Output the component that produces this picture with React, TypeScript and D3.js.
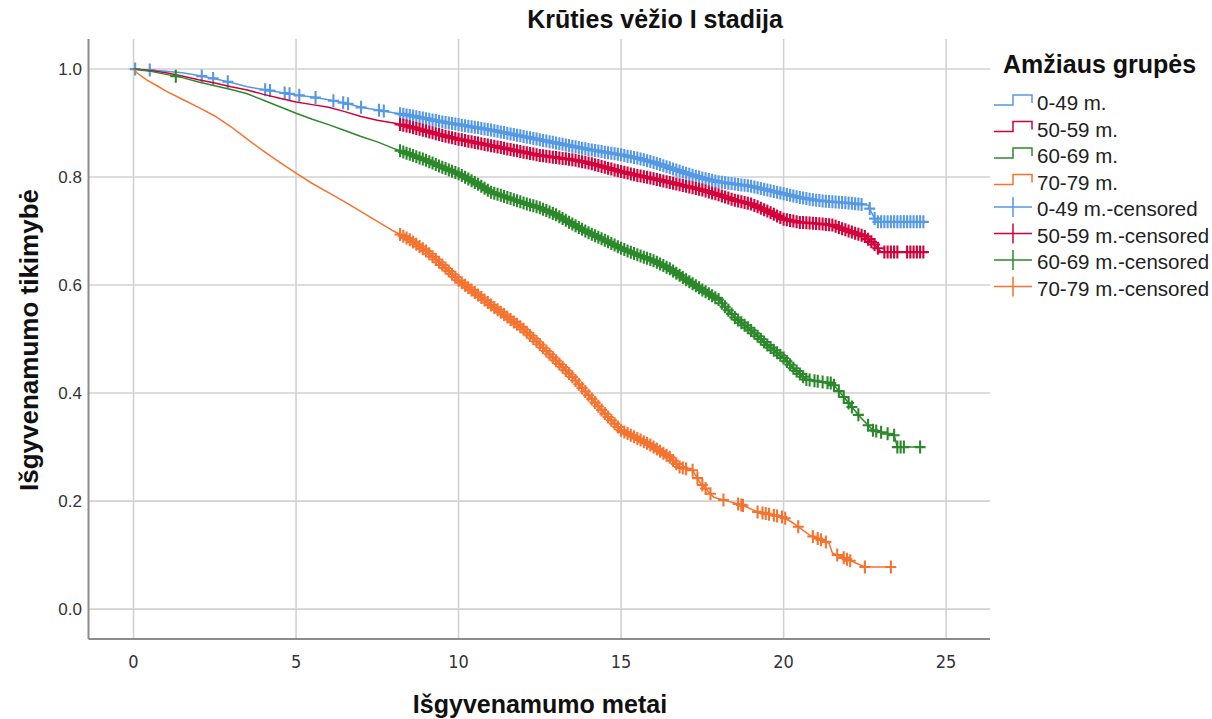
import React from "react";
import * as d3 from "d3";

const xTicks = [0, 5, 10, 15, 20, 25];
const yTicks = [0, 0.2, 0.4, 0.6, 0.8, 1.0];
const groupNames = ["0-49 m.", "50-59 m.", "60-69 m.", "70-79 m."];
const groupColors = ["#5599e6", "#d3003b", "#2b892b", "#f5732f"];

// 0-49 m.
const times049 = [0, 0.5, 1, 1.5, 2, 2.5, 3, 3.5, 4, 4.5, 5, 5.5, 6, 6.5, 7, 7.5, 8, 8.5, 9, 9.5, 10, 10.5, 11, 11.5, 12, 12.5, 13, 13.5, 14, 14.5, 15, 15.5, 16, 16.5, 17, 17.5, 18, 18.5, 19, 19.5, 20, 20.5, 21, 21.5, 22, 22.6, 22.7, 22.85];
const surv049 = [1, 0.998, 0.996, 0.993, 0.988, 0.982, 0.975, 0.967, 0.962, 0.957, 0.952, 0.948, 0.943, 0.937, 0.929, 0.924, 0.919, 0.914, 0.908, 0.902, 0.897, 0.892, 0.887, 0.881, 0.875, 0.869, 0.863, 0.857, 0.851, 0.846, 0.841, 0.835, 0.827, 0.817, 0.807, 0.798, 0.791, 0.787, 0.783, 0.776, 0.769, 0.762, 0.757, 0.754, 0.752, 0.748, 0.735, 0.717];
const end049 = 24.3;
const cens049 = [0.05, 0.5, 2.1, 2.45, 2.9, 4.05, 4.2, 4.65, 4.8, 5.1, 5.6, 6.15, 6.45, 6.6, 7.0, 7.55, 7.7,
  8.2, 8.3, 8.4, 8.5, 8.6, 8.7, 8.8, 8.9, 9.0, 9.1, 9.2, 9.3, 9.4, 9.5, 9.6, 9.7, 9.8, 9.9, 10.0, 10.1, 10.2, 10.3, 10.4, 10.5, 10.6, 10.7, 10.8, 10.9,
  11.0, 11.1, 11.2, 11.3, 11.4, 11.5, 11.6, 11.7, 11.8, 11.9, 12.0, 12.1, 12.2, 12.3, 12.4, 12.5, 12.6, 12.7, 12.8, 12.9, 13.0, 13.1, 13.2, 13.3, 13.4, 13.5,
  13.6, 13.7, 13.8, 13.9, 14.0, 14.1, 14.2, 14.3, 14.4, 14.5, 14.6, 14.7, 14.8, 14.9, 15.0, 15.1, 15.2, 15.3, 15.4, 15.5, 15.6, 15.7, 15.8, 15.9, 16.0,
  16.1, 16.2, 16.3, 16.4, 16.5, 16.6, 16.7, 16.8, 16.9, 17.0, 17.1, 17.2, 17.3, 17.4, 17.5, 17.6, 17.7, 17.8, 17.9, 18.0, 18.1, 18.2, 18.3, 18.4, 18.5,
  18.6, 18.7, 18.8, 18.9, 19.0, 19.1, 19.2, 19.3, 19.4, 19.5, 19.6, 19.7, 19.8, 19.9, 20.0, 20.1, 20.2, 20.3, 20.4, 20.5, 20.6, 20.7, 20.8, 20.9, 21.0,
  21.1, 21.2, 21.3, 21.4, 21.5, 21.6, 21.7, 21.8, 21.9, 22.0, 22.1, 22.2, 22.3, 22.4, 22.65, 22.8, 22.9, 23.0, 23.1, 23.2, 23.3, 23.4, 23.5, 23.6, 23.7,
  23.8, 23.9, 24.0, 24.1, 24.2, 24.3];

// 50-59 m.
const times5059 = [0, 0.5, 1, 1.5, 2, 2.5, 3, 3.5, 4, 4.5, 5, 5.5, 6, 6.5, 7, 7.5, 8, 8.5, 9, 9.5, 10, 10.5, 11, 11.5, 12, 12.5, 13, 13.5, 14, 14.5, 15, 15.5, 16, 16.5, 17, 17.5, 18, 18.5, 19, 19.5, 20, 20.5, 21, 21.5, 22, 22.5, 22.8, 23.0];
const surv5059 = [1, 0.997, 0.993, 0.987, 0.98, 0.974, 0.967, 0.961, 0.953, 0.946, 0.939, 0.934, 0.929, 0.921, 0.912, 0.905, 0.9, 0.893, 0.885, 0.877, 0.87, 0.864, 0.858, 0.852, 0.846, 0.84, 0.836, 0.832, 0.826, 0.818, 0.81, 0.803, 0.797, 0.79, 0.783, 0.776, 0.767, 0.757, 0.75, 0.737, 0.722, 0.716, 0.714, 0.711, 0.7, 0.69, 0.675, 0.661];
const end5059 = 24.3;
const cens5059 = [
  8.2, 8.3, 8.4, 8.5, 8.6, 8.7, 8.8, 8.9, 9.0, 9.1, 9.2, 9.3, 9.4, 9.5, 9.6, 9.7, 9.8, 9.9, 10.0, 10.1, 10.2, 10.3, 10.4, 10.5, 10.6, 10.7, 10.8, 10.9,
  11.0, 11.1, 11.2, 11.3, 11.4, 11.5, 11.6, 11.7, 11.8, 11.9, 12.0, 12.1, 12.2, 12.3, 12.4, 12.5, 12.6, 12.7, 12.8, 12.9, 13.0, 13.1, 13.2, 13.3, 13.4, 13.5,
  13.6, 13.7, 13.8, 13.9, 14.0, 14.1, 14.2, 14.3, 14.4, 14.5, 14.6, 14.7, 14.8, 14.9, 15.0, 15.1, 15.2, 15.3, 15.4, 15.5, 15.6, 15.7, 15.8, 15.9, 16.0,
  16.1, 16.2, 16.3, 16.4, 16.5, 16.6, 16.7, 16.8, 16.9, 17.0, 17.1, 17.2, 17.3, 17.4, 17.5, 17.6, 17.7, 17.8, 17.9, 18.0, 18.1, 18.2, 18.3, 18.4, 18.5,
  18.6, 18.7, 18.8, 18.9, 19.0, 19.1, 19.2, 19.3, 19.4, 19.5, 19.6, 19.7, 19.8, 19.9, 20.0, 20.1, 20.2, 20.3, 20.4, 20.5, 20.6, 20.7, 20.8, 20.9, 21.0,
  21.1, 21.2, 21.3, 21.4, 21.5, 21.6, 21.7, 21.8, 21.9, 22.0, 22.1, 22.2, 22.3, 22.4, 22.5, 22.6, 22.7, 22.8, 22.9, 23.1, 23.2, 23.3, 23.4, 23.5,
  23.8, 23.9, 24.0, 24.1, 24.2, 24.3];

// 60-69 m.
const times6069 = [0, 0.5, 1, 1.5, 2, 2.5, 3, 3.5, 4, 4.5, 5, 5.5, 6, 6.5, 7, 7.5, 8, 8.5, 9, 9.5, 10, 10.5, 11, 11.5, 12, 12.5, 13, 13.5, 14, 14.5, 15, 15.5, 16, 16.5, 17, 17.5, 18, 18.5, 19, 19.5, 20, 20.3, 20.7, 21.5, 21.75, 22.05, 22.35, 22.75, 23.4, 23.5];
const surv6069 = [1, 0.996, 0.99, 0.984, 0.976, 0.969, 0.962, 0.954, 0.942, 0.93, 0.918, 0.907, 0.897, 0.886, 0.875, 0.865, 0.853, 0.842, 0.831, 0.818, 0.806, 0.79, 0.772, 0.762, 0.752, 0.743, 0.73, 0.713, 0.697, 0.683, 0.668, 0.656, 0.645, 0.63, 0.61, 0.591, 0.573, 0.54, 0.516, 0.489, 0.465, 0.446, 0.425, 0.418, 0.4, 0.378, 0.356, 0.331, 0.322, 0.3];
const end6069 = 24.2;
const cens6069 = [1.3,
  8.2, 8.3, 8.4, 8.5, 8.6, 8.7, 8.8, 8.9, 9.0, 9.1, 9.2, 9.3, 9.4, 9.5, 9.6, 9.7, 9.8, 9.9, 10.0, 10.1, 10.2, 10.3, 10.4, 10.5, 10.6, 10.7, 10.8, 10.9,
  11.0, 11.1, 11.2, 11.3, 11.4, 11.5, 11.6, 11.7, 11.8, 11.9, 12.0, 12.1, 12.2, 12.3, 12.4, 12.5, 12.6, 12.7, 12.8, 12.9, 13.0, 13.1, 13.2, 13.3, 13.4, 13.5,
  13.6, 13.7, 13.8, 13.9, 14.0, 14.1, 14.2, 14.3, 14.4, 14.5, 14.6, 14.7, 14.8, 14.9, 15.0, 15.1, 15.2, 15.3, 15.4, 15.5, 15.6, 15.7, 15.8, 15.9, 16.0,
  16.1, 16.2, 16.3, 16.4, 16.5, 16.6, 16.7, 16.8, 16.9, 17.0, 17.1, 17.2, 17.3, 17.4, 17.5, 17.6, 17.7, 17.8, 17.9, 18.0, 18.1, 18.2, 18.3, 18.4, 18.5,
  18.6, 18.7, 18.8, 18.9, 19.0, 19.1, 19.2, 19.3, 19.4, 19.5, 19.6, 19.7, 19.8, 19.9, 20.0, 20.1, 20.2, 20.3, 20.4, 20.5, 20.6, 20.7, 20.8,
  20.95, 21.05, 21.2, 21.35, 21.45, 21.55, 21.7, 21.85, 22.0, 22.1, 22.3, 22.6, 22.75, 22.85, 23.0, 23.2, 23.4, 23.5, 23.6, 23.7, 24.2];

// 70-79 m.
const times7079 = [0, 0.1, 0.4, 0.75, 1, 1.5, 2, 2.5, 3, 3.5, 4, 4.5, 5, 5.5, 6, 6.5, 7, 7.5, 8, 8.5, 9, 9.5, 10, 10.5, 11, 11.5, 12, 12.5, 13, 13.5, 14, 14.5, 15, 15.5, 15.9, 16.5, 16.8, 17.2, 17.45, 17.85, 18.7, 19.2, 20.0, 20.3, 20.8, 21.4, 21.5, 22.5];
const surv7079 = [1, 0.993, 0.98, 0.968, 0.959, 0.944, 0.929, 0.913, 0.893, 0.87, 0.848, 0.827, 0.807, 0.788, 0.771, 0.754, 0.736, 0.718, 0.7, 0.684, 0.663, 0.637, 0.609, 0.586, 0.563, 0.541, 0.518, 0.49, 0.46, 0.43, 0.396, 0.362, 0.331, 0.316, 0.304, 0.281, 0.263, 0.257, 0.233, 0.207, 0.193, 0.18, 0.17, 0.159, 0.137, 0.122, 0.104, 0.078];
const end7079 = 23.35;
const cens7079 = [
  8.2, 8.3, 8.4, 8.5, 8.6, 8.7, 8.8, 8.9, 9.0, 9.1, 9.2, 9.3, 9.4, 9.5, 9.6, 9.7, 9.8, 9.9, 10.0, 10.1, 10.2, 10.3, 10.4, 10.5, 10.6, 10.7, 10.8, 10.9,
  11.0, 11.1, 11.2, 11.3, 11.4, 11.5, 11.6, 11.7, 11.8, 11.9, 12.0, 12.1, 12.2, 12.3, 12.4, 12.5, 12.6, 12.7, 12.8, 12.9, 13.0, 13.1, 13.2, 13.3, 13.4, 13.5,
  13.6, 13.7, 13.8, 13.9, 14.0, 14.1, 14.2, 14.3, 14.4, 14.5, 14.6, 14.7, 14.8, 14.9, 15.0, 15.1, 15.2, 15.3, 15.4, 15.5, 15.6, 15.7, 15.8, 15.9, 16.0,
  16.1, 16.2, 16.3, 16.4, 16.5, 16.6, 16.7, 16.8, 16.9, 17.0, 17.2, 17.35, 17.5, 17.6, 17.75, 18.15, 18.6, 18.7, 18.75, 19.2, 19.35, 19.45, 19.55, 19.7,
  19.8, 19.95, 20.05, 20.45, 20.9, 21.05, 21.15, 21.3, 21.65, 21.85, 21.95, 22.05, 22.5, 23.3];

const series = [
  { name: groupNames[0], color: groupColors[0], times: times049, surv: surv049, end: end049, cens: cens049 },
  { name: groupNames[1], color: groupColors[1], times: times5059, surv: surv5059, end: end5059, cens: cens5059 },
  { name: groupNames[2], color: groupColors[2], times: times6069, surv: surv6069, end: end6069, cens: cens6069 },
  { name: groupNames[3], color: groupColors[3], times: times7079, surv: surv7079, end: end7079, cens: cens7079 },
];

const W = 1212;
const H = 719;
const plotLeft = 88.5;
const plotRight = 990;
const plotTop = 39;
const plotBottom = 639;

const x = d3.scaleLinear().domain([-1.385, 26.35]).range([plotLeft, plotRight]);
const y = d3.scaleLinear().domain([-0.0553, 1.0555]).range([plotBottom, plotTop]);

const lineGen = d3
  .line<[number, number]>()
  .x((d) => x(d[0]))
  .y((d) => y(d[1]))
  .curve(d3.curveLinear);

const sansFont = "'Liberation Sans', Arial, sans-serif";
const narrowFont = "'Liberation Sans Narrow', 'Arial Narrow', 'DejaVu Sans Condensed', sans-serif";

export default function App() {
  const legendTop = 110;
  const legendStep = 26.5;
  const lx0 = 994;
  const lx1 = 1013;
  const lx2 = 1032;
  return (
    <svg width={W} height={H} style={{ position: "absolute", left: 0, top: 0, background: "#fff" }}>
      <rect x={0} y={0} width={W} height={H} fill="#fff" />
      {/* grid */}
      {xTicks.map((t) => (
        <line key={"gx" + t} x1={x(t)} x2={x(t)} y1={plotTop} y2={plotBottom} stroke="#d2d2d2" strokeWidth={1.6} />
      ))}
      {yTicks.map((t) => (
        <line key={"gy" + t} x1={plotLeft} x2={plotRight} y1={y(t)} y2={y(t)} stroke="#d2d2d2" strokeWidth={1.6} />
      ))}
      {/* axes */}
      <line x1={plotLeft} x2={plotLeft} y1={plotTop} y2={plotBottom} stroke="#8c8c8c" strokeWidth={2} />
      <line x1={plotLeft} x2={plotRight} y1={plotBottom} y2={plotBottom} stroke="#8c8c8c" strokeWidth={2} />
      {/* tick labels */}
      {yTicks.map((t) => (
        <text key={"ty" + t} x={82} y={y(t) + 6} textAnchor="end" fontFamily={sansFont} fontSize={17} fill="#333">
          {d3.format(".1f")(t)}
        </text>
      ))}
      {xTicks.map((t) => (
        <text key={"tx" + t} x={x(t)} y={668} textAnchor="middle" fontFamily={narrowFont} fontSize={18} fill="#333">
          {t}
        </text>
      ))}
      {/* series */}
      {series.map((s) => {
        const pts: [number, number][] = s.times.map((t, i) => [t, s.surv[i]] as [number, number]);
        pts.push([s.end, s.surv[s.surv.length - 1]]);
        const sAt = d3.scaleLinear().domain(pts.map((p) => p[0])).range(pts.map((p) => p[1])).clamp(true);
        const crosses = s.cens
          .map((t) => {
            const cx = x(t);
            const cy = y(sAt(t));
            return `M${cx - 5.5},${cy}H${cx + 5.5}M${cx},${cy - 6.5}V${cy + 6.5}`;
          })
          .join("");
        return (
          <g key={s.name}>
            <path d={lineGen(pts) || ""} fill="none" stroke={s.color} strokeWidth={1.5} />
            <path d={crosses} fill="none" stroke={s.color} strokeWidth={2.1} />
          </g>
        );
      })}
      {/* titles */}
      <text x={655} y={28} textAnchor="middle" fontFamily={sansFont} fontSize={25} fontWeight="bold" fill="#111">
        Krūties vėžio I stadija
      </text>
      <text x={540} y={713} textAnchor="middle" fontFamily={sansFont} fontSize={25} fontWeight="bold" fill="#111">
        Išgyvenamumo metai
      </text>
      <text transform="translate(38,340) rotate(-90)" textAnchor="middle" fontFamily={sansFont} fontSize={26} fontWeight="bold" fill="#111">
        Išgyvenamumo tikimybė
      </text>
      {/* legend */}
      <text x={1003} y={73} fontFamily={sansFont} fontSize={25} fontWeight="bold" fill="#111">
        Amžiaus grupės
      </text>
      {series.map((s, i) => {
        const b = legendTop + i * legendStep;
        return (
          <g key={"ls" + s.name}>
            <path d={`M${lx0},${b - 5}H${lx1}V${b - 15}H${lx2}V${b - 7}`} fill="none" stroke={s.color} strokeWidth={1.5} />
            <text x={1037} y={b} fontFamily={sansFont} fontSize={20.5} fill="#222">
              {s.name}
            </text>
          </g>
        );
      })}
      {series.map((s, i) => {
        const b = legendTop + (i + 4) * legendStep;
        return (
          <g key={"lc" + s.name}>
            <path d={`M${lx0},${b - 9}H${lx2}M${lx1},${b - 19}V${b + 1}`} fill="none" stroke={s.color} strokeWidth={1.5} />
            <text x={1037} y={b} fontFamily={sansFont} fontSize={20.5} fill="#222">
              {s.name + "-censored"}
            </text>
          </g>
        );
      })}
    </svg>
  );
}
